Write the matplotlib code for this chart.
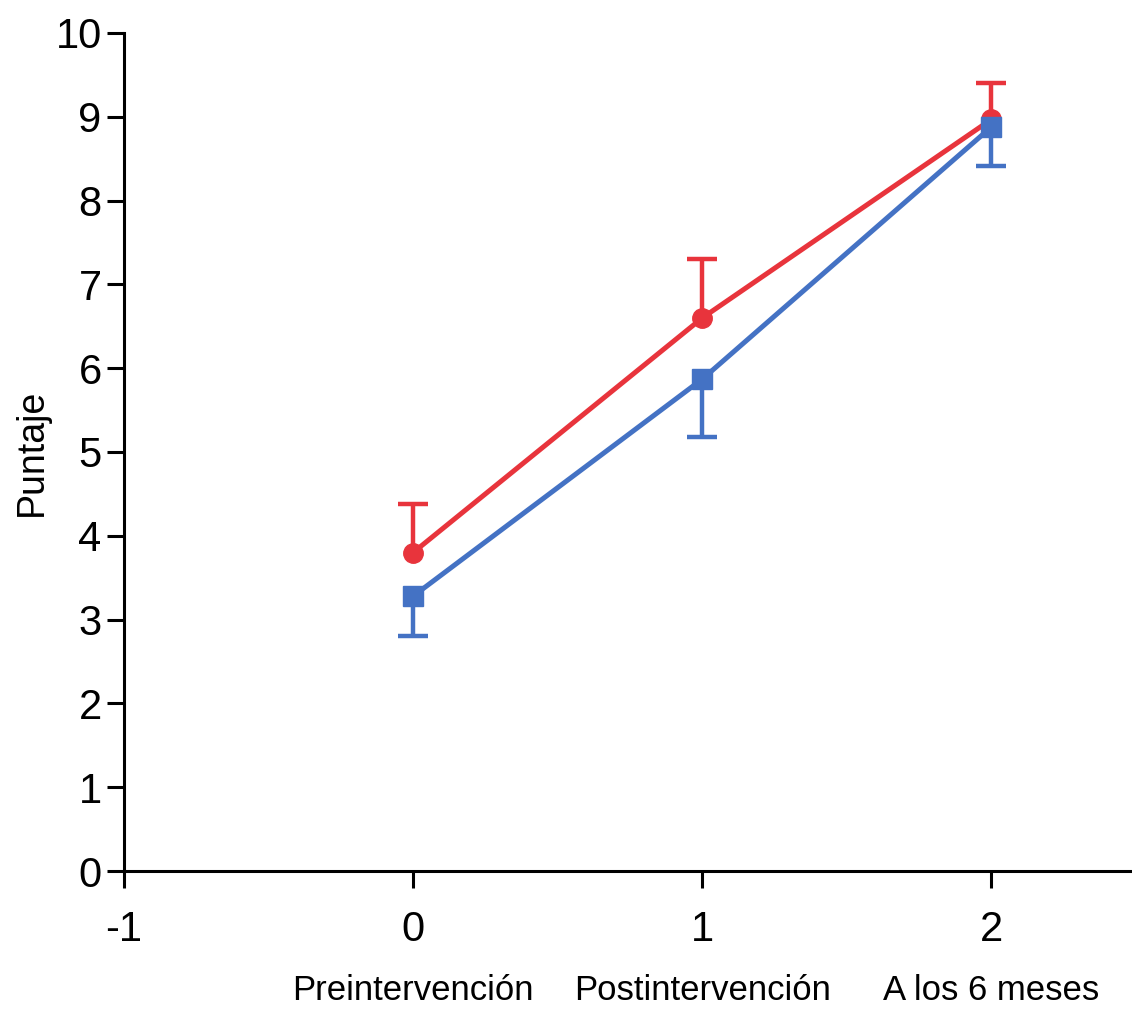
import matplotlib
matplotlib.use("Agg")
import matplotlib.pyplot as plt
import matplotlib.transforms as mtransforms

plt.rcParams['font.family'] = ['Liberation Sans', 'DejaVu Sans']

# data
x = [0, 1, 2]
categories = ['Preintervención', 'Postintervención', 'A los 6 meses']
red_mean = [3.80, 6.60, 8.97]
red_up = [4.38, 7.30, 9.40]
blue_mean = [3.28, 5.87, 8.88]
blue_down = [2.80, 5.18, 8.41]

red = '#E8343C'
blue = '#4472C4'

fig = plt.figure(figsize=(11.32, 10.24), dpi=100)
ax = fig.add_axes([0.1095, 0.1494, 0.889, 0.8184])

red_err = [[0, 0, 0], [u - m for u, m in zip(red_up, red_mean)]]
blue_err = [[m - d for m, d in zip(blue_mean, blue_down)], [0, 0, 0]]

r = ax.errorbar(x, red_mean, yerr=red_err, color=red, lw=3.6, marker='o', ms=14,
                capsize=11, capthick=3.2, elinewidth=3.2, zorder=3)
b = ax.errorbar(x, blue_mean, yerr=blue_err, color=blue, lw=3.6, marker='s', ms=14,
                capsize=11, capthick=3.2, elinewidth=3.2, zorder=4)
# one-sided bars: hide the cap on the zero side
r[1][0].set_visible(False)
b[1][1].set_visible(False)

ax.set_xlim(-1, 2.48)
ax.set_ylim(0, 10)
ax.set_xticks([-1, 0, 1, 2])
ax.set_xticklabels(['-1', '0', '1', '2'])
ax.set_yticks(range(0, 11))

for s in ['top', 'right']:
    ax.spines[s].set_visible(False)
ax.spines['left'].set_linewidth(2.2)
ax.spines['bottom'].set_linewidth(2.2)
ax.tick_params(axis='both', direction='out', length=12, width=2.2,
               labelsize=30)
ax.tick_params(axis='y', pad=4)
ax.tick_params(axis='x', pad=16)

ax.set_ylabel('Puntaje', fontsize=27)
ax.yaxis.set_label_coords(-0.074, 0.5)

trans = mtransforms.blended_transform_factory(ax.transData, ax.transAxes)
for xi, c in zip(x, categories):
    ax.text(xi, -0.142, c, transform=trans, ha='center', va='center',
            fontsize=25)

fig.savefig('out.png', dpi=100)
